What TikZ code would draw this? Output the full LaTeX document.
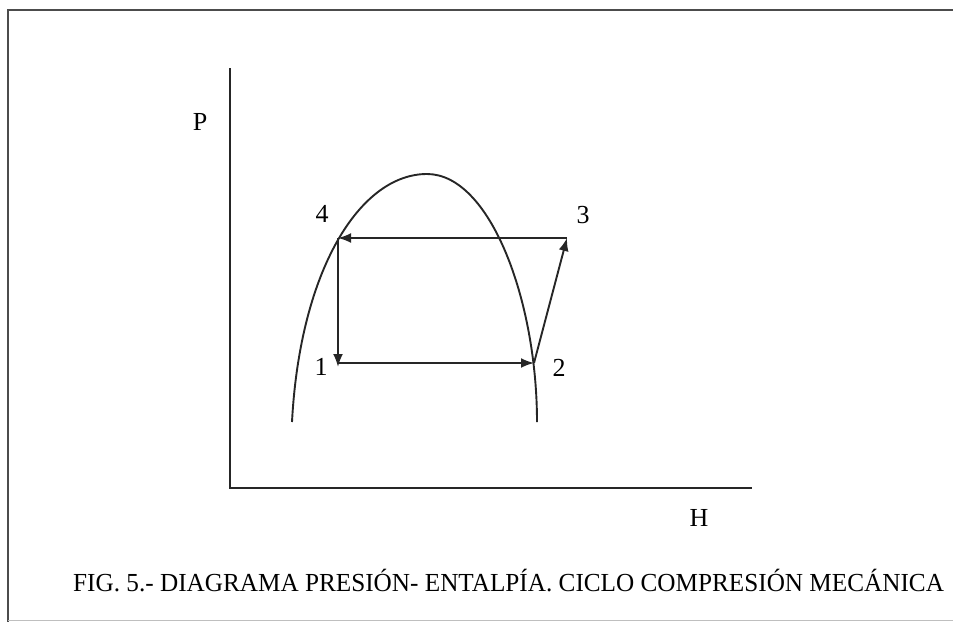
\documentclass[tikz,border=0pt]{standalone}
\usepackage{fontspec}
\setmainfont{Liberation Serif}
\usetikzlibrary{arrows.meta}
\begin{document}
\begin{tikzpicture}[x=1pt,y=-1pt,
  ln/.style={line width=1.9pt,black!85},
  arr/.style={ln,-{Latex[length=13pt,width=10pt]}},
  lbl/.style={font=\fontsize{26}{30}\selectfont,inner sep=0pt}]
\useasboundingbox (0,0) rectangle (953,622);
% frame
\draw[line width=1.8pt,black!70] (953,10) -- (8,10) -- (8,622);
\draw[line width=1pt,black!25] (8,620) -- (953,620);
% axes
\coordinate (ytop) at (230,68);
\coordinate (orig) at (230,488);
\coordinate (xend) at (752,488);
\draw[ln] (ytop) -- (orig) -- (xend);
\node[lbl] (P) at (200,122) {P};
\node[lbl] (H) at (699,518) {H};
% saturation dome
\coordinate (lf) at (292,422);
\coordinate (apex) at (427,174);
\coordinate (rf) at (537,422);
\draw[ln] (lf) .. controls (300,270) and (360,174) .. (apex)
          .. controls (490,174) and (537,300) .. (rf);
% cycle points
\coordinate (p4) at (338,238);
\coordinate (p3) at (567,238);
\coordinate (p2) at (534,363);
\coordinate (p1) at (338,363);
\draw[arr] (p4) -- ([yshift=-4pt]p1);
\draw[arr] (p1) -- (p2);
\draw[arr] (p2) -- (p3);
\draw[arr] (p3) -- (p4);
\node[lbl] (l4) at (322,214) {4};
\node[lbl] (l3) at (583,215) {3};
\node[lbl] (l1) at (321,367) {1};
\node[lbl] (l2) at (559,368) {2};
% caption
\node[lbl,anchor=west] (cap) at (73,581) {\scalebox{0.97}[1]{FIG. 5.- DIAGRAMA PRESIÓN- ENTALPÍA. CICLO COMPRESIÓN MECÁNICA}};
\end{tikzpicture}
\end{document}
